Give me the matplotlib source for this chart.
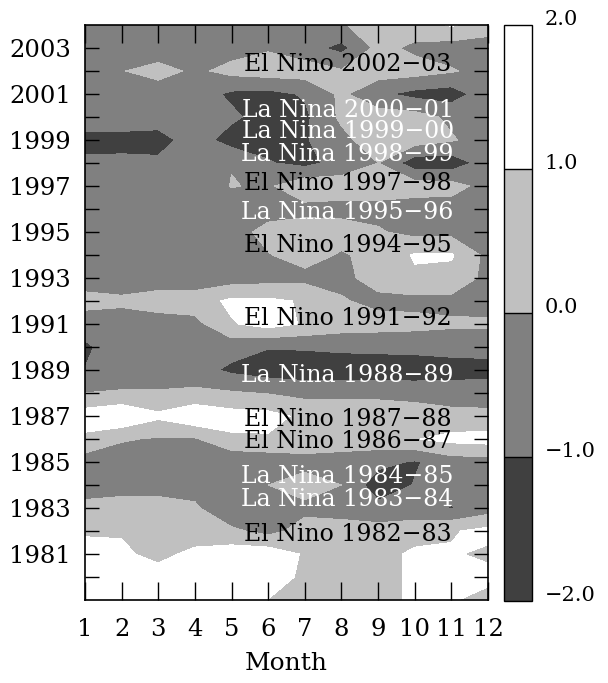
import numpy as np
import matplotlib.pyplot as plt

months = np.arange(1, 13)
years = np.arange(1979, 2005)

# monthly anomaly grid, one row per year (1979 ... 2004), columns Jan..Dec
anom = np.array([
    [1.6, 1.6, 1.6, 1.6, 1.5, 0.98, 0.6, 0.5, 0.6, 1.2, 1.1, 0.6],      # 1979
    [1.6, 1.6, 1.5, 1.6, 1.6, 1.5, 0.8, 0.6, 0.6, 1.2, 1.4, 1.3],       # 1980
    [1.3, 1.2, 0.67, 1.3, 1.53, 1.57, 0.9, 0.6, 0.6, 1.2, 1.1, 0.8],    # 1981
    [0.9, 0.9, 0.6, 0.3, 0.2, -0.32, 0.4, 0.5, 0.4, 0.53, 0.9, 1.3],    # 1982
    [0.35, 0.4, 0.4, 0.15, -0.9, -0.7, -0.27, -0.5, -0.7, -0.6, -1.05, -0.5],  # 1983
    [-0.6, -0.4, -0.4, -0.4, -0.5, 0.0, 0.5, 0.0, -1.6, -0.95, -0.6, -0.5],    # 1984
    [-0.5, -0.6, -0.6, -0.6, -0.83, -0.68, -0.4, -0.5, -0.7, -1.1, -0.5, -0.4],  # 1985
    [0.79, 0.1, -0.1, -0.1, 0.83, 0.9, 0.7, 0.6, 0.6, 0.95, 1.3, 1.4],  # 1986
    [1.5, 1.9, 1.2, 1.8, 1.4, 1.3, 0.8, 0.7, 0.7, 0.5, 0.25, 0.2],      # 1987
    [0.01, 0.1, 0.1, 0.2, 0.1, -0.05, -0.3, -0.3, -0.3, -0.35, -0.4, -0.4],  # 1988
    [-0.98, -0.6, -0.6, -0.6, -1.2, -1.5, -1.6, -1.6, -1.6, -1.6, -1.5, -1.4],  # 1989
    [-1.15, -0.5, -0.5, -0.5, -0.6, -0.95, -0.9, -0.8, -0.75, -0.7, -0.6, -0.6],  # 1990
    [-0.6, -0.5, -0.5, -0.3, 0.91, 1.4, 0.9, 0.5, 0.4, 0.3, 0.15, 0.15],  # 1991
    [0.4, 0.2, 0.5, 0.5, 1.21, 1.2, 0.9, 0.1, -0.3, -0.3, -0.3, -0.4],    # 1992
    [-0.6, -0.6, -0.6, -0.6, -0.5, -0.4, -0.3, -0.3, 0.45, 0.85, 0.7, -0.3],  # 1993
    [-0.7, -0.7, -0.7, -0.7, -0.5, -0.05, 0.4, -0.1, 0.3, 1.1, 1.1, -0.3],    # 1994
    [-0.7, -0.7, -0.7, -0.6, -0.4, 0.3, 0.5, 0.4, 0.1, -0.3, -0.3, -0.5],     # 1995
    [-0.6, -0.6, -0.6, -0.6, -0.6, -0.4, -0.3, -0.3, -0.3, -0.5, -0.5, -0.6], # 1996
    [-0.6, -0.6, -0.6, -0.9, 0.05, -0.15, 0.7, 0.5, 0.5, 0.5, 0.4, -0.4],     # 1997
    [-0.84, -0.8, -0.8, -0.6, -0.05, -0.92, -1.3, -0.6, 0.0, -1.6, -1.6, -0.5],  # 1998
    [-1.3, -1.3, -1.4, -0.5, -1.45, -1.4, -1.1, -0.3, 0.6, 0.5, 0.1, -0.5],   # 1999
    [-0.5, -0.5, -0.5, -0.6, -0.8, -1.47, -1.2, 0.2, 0.5, 0.4, -0.2, -0.5],   # 2000
    [-0.5, -0.5, -0.6, -0.5, -1.19, -1.3, -0.9, 0.2, -0.8, -1.3, -1.5, -0.4], # 2001
    [-0.5, -0.05, 0.4, -0.2, 0.3, 0.5, 0.5, 0.1, 0.5, 0.4, 0.1, -0.4],       # 2002
    [-0.5, -0.5, -0.68, -0.6, -0.4, -0.1, -0.6, -1.3, 0.3, -0.2, -0.5, -0.5], # 2003
    [-0.5, -0.5, -0.5, -0.5, -0.5, -0.5, -0.4, -0.1, 0.5, 0.5, 1.1, 0.5],     # 2004
])

levels = [-2.0, -1.0, 0.0, 1.0, 2.0]
level_labels = ['\u22122.0', '\u22121.0', '0.0', '1.0', '2.0']
shades = ['#404040', '#808080', '#c0c0c0', '#ffffff']

# event labels and the year each one sits at
events = ['El Nino 2002-03', 'La Nina 2000-01', 'La Nina 1999-00', 'La Nina 1998-99',
          'El Nino 1997-98', 'La Nina 1995-96', 'El Nino 1994-95', 'El Nino 1991-92',
          'La Nina 1988-89', 'El Nino 1987-88', 'El Nino 1986-87', 'La Nina 1984-85',
          'La Nina 1983-84', 'El Nino 1982-83']
event_y = [2002.3, 2000.3, 1999.35, 1998.35, 1997.13, 1995.83, 1994.4, 1991.26,
           1988.78, 1986.83, 1985.87, 1984.35, 1983.39, 1981.83]

plt.rcParams['font.family'] = 'DejaVu Serif'

fig = plt.figure(figsize=(6.08, 6.83), dpi=100)
ax = fig.add_axes([85/608, 1-600/683, 403/608, 575/683])

cs = ax.contourf(months, years, np.clip(anom, -1.99, 1.99), levels=levels, colors=shades)

for txt, yy in zip(events, event_y):
    col = 'black' if txt.startswith('El') else 'white'
    ax.text(8.17, yy, txt.replace('-', '\u2212'), color=col, fontsize=17,
            ha='center', va='center')

ax.set_xlim(1, 12)
ax.set_ylim(1979, 2004)
ax.set_xticks(months)
ax.set_yticks(np.arange(1981, 2004, 2))
ax.set_yticks(np.arange(1980, 2004, 2), minor=True)
ax.tick_params(axis='x', which='both', direction='in', top=True, length=13, width=1,
               labelsize=17.5, pad=13)
ax.tick_params(axis='y', which='both', direction='in', right=True, length=10, width=1,
               labelsize=17.5, pad=10)
ax.set_xlabel('Month', fontsize=18, labelpad=8)
for s in ax.spines.values():
    s.set_linewidth(1.2)

cax = fig.add_axes([504/608, 1-601/683, 28/608, 576/683])
cb = fig.colorbar(cs, cax=cax, ticks=levels, drawedges=True)
cb.set_ticklabels(level_labels)
cb.outline.set_linewidth(1)
cb.dividers.set_linewidth(1)
cax.tick_params(length=0, labelsize=15, pad=9)
# colour bar labels sit on the band edges
for lab in cax.get_yticklabels():
    lab.set_verticalalignment('baseline')

fig.savefig('out.png', dpi=100)
